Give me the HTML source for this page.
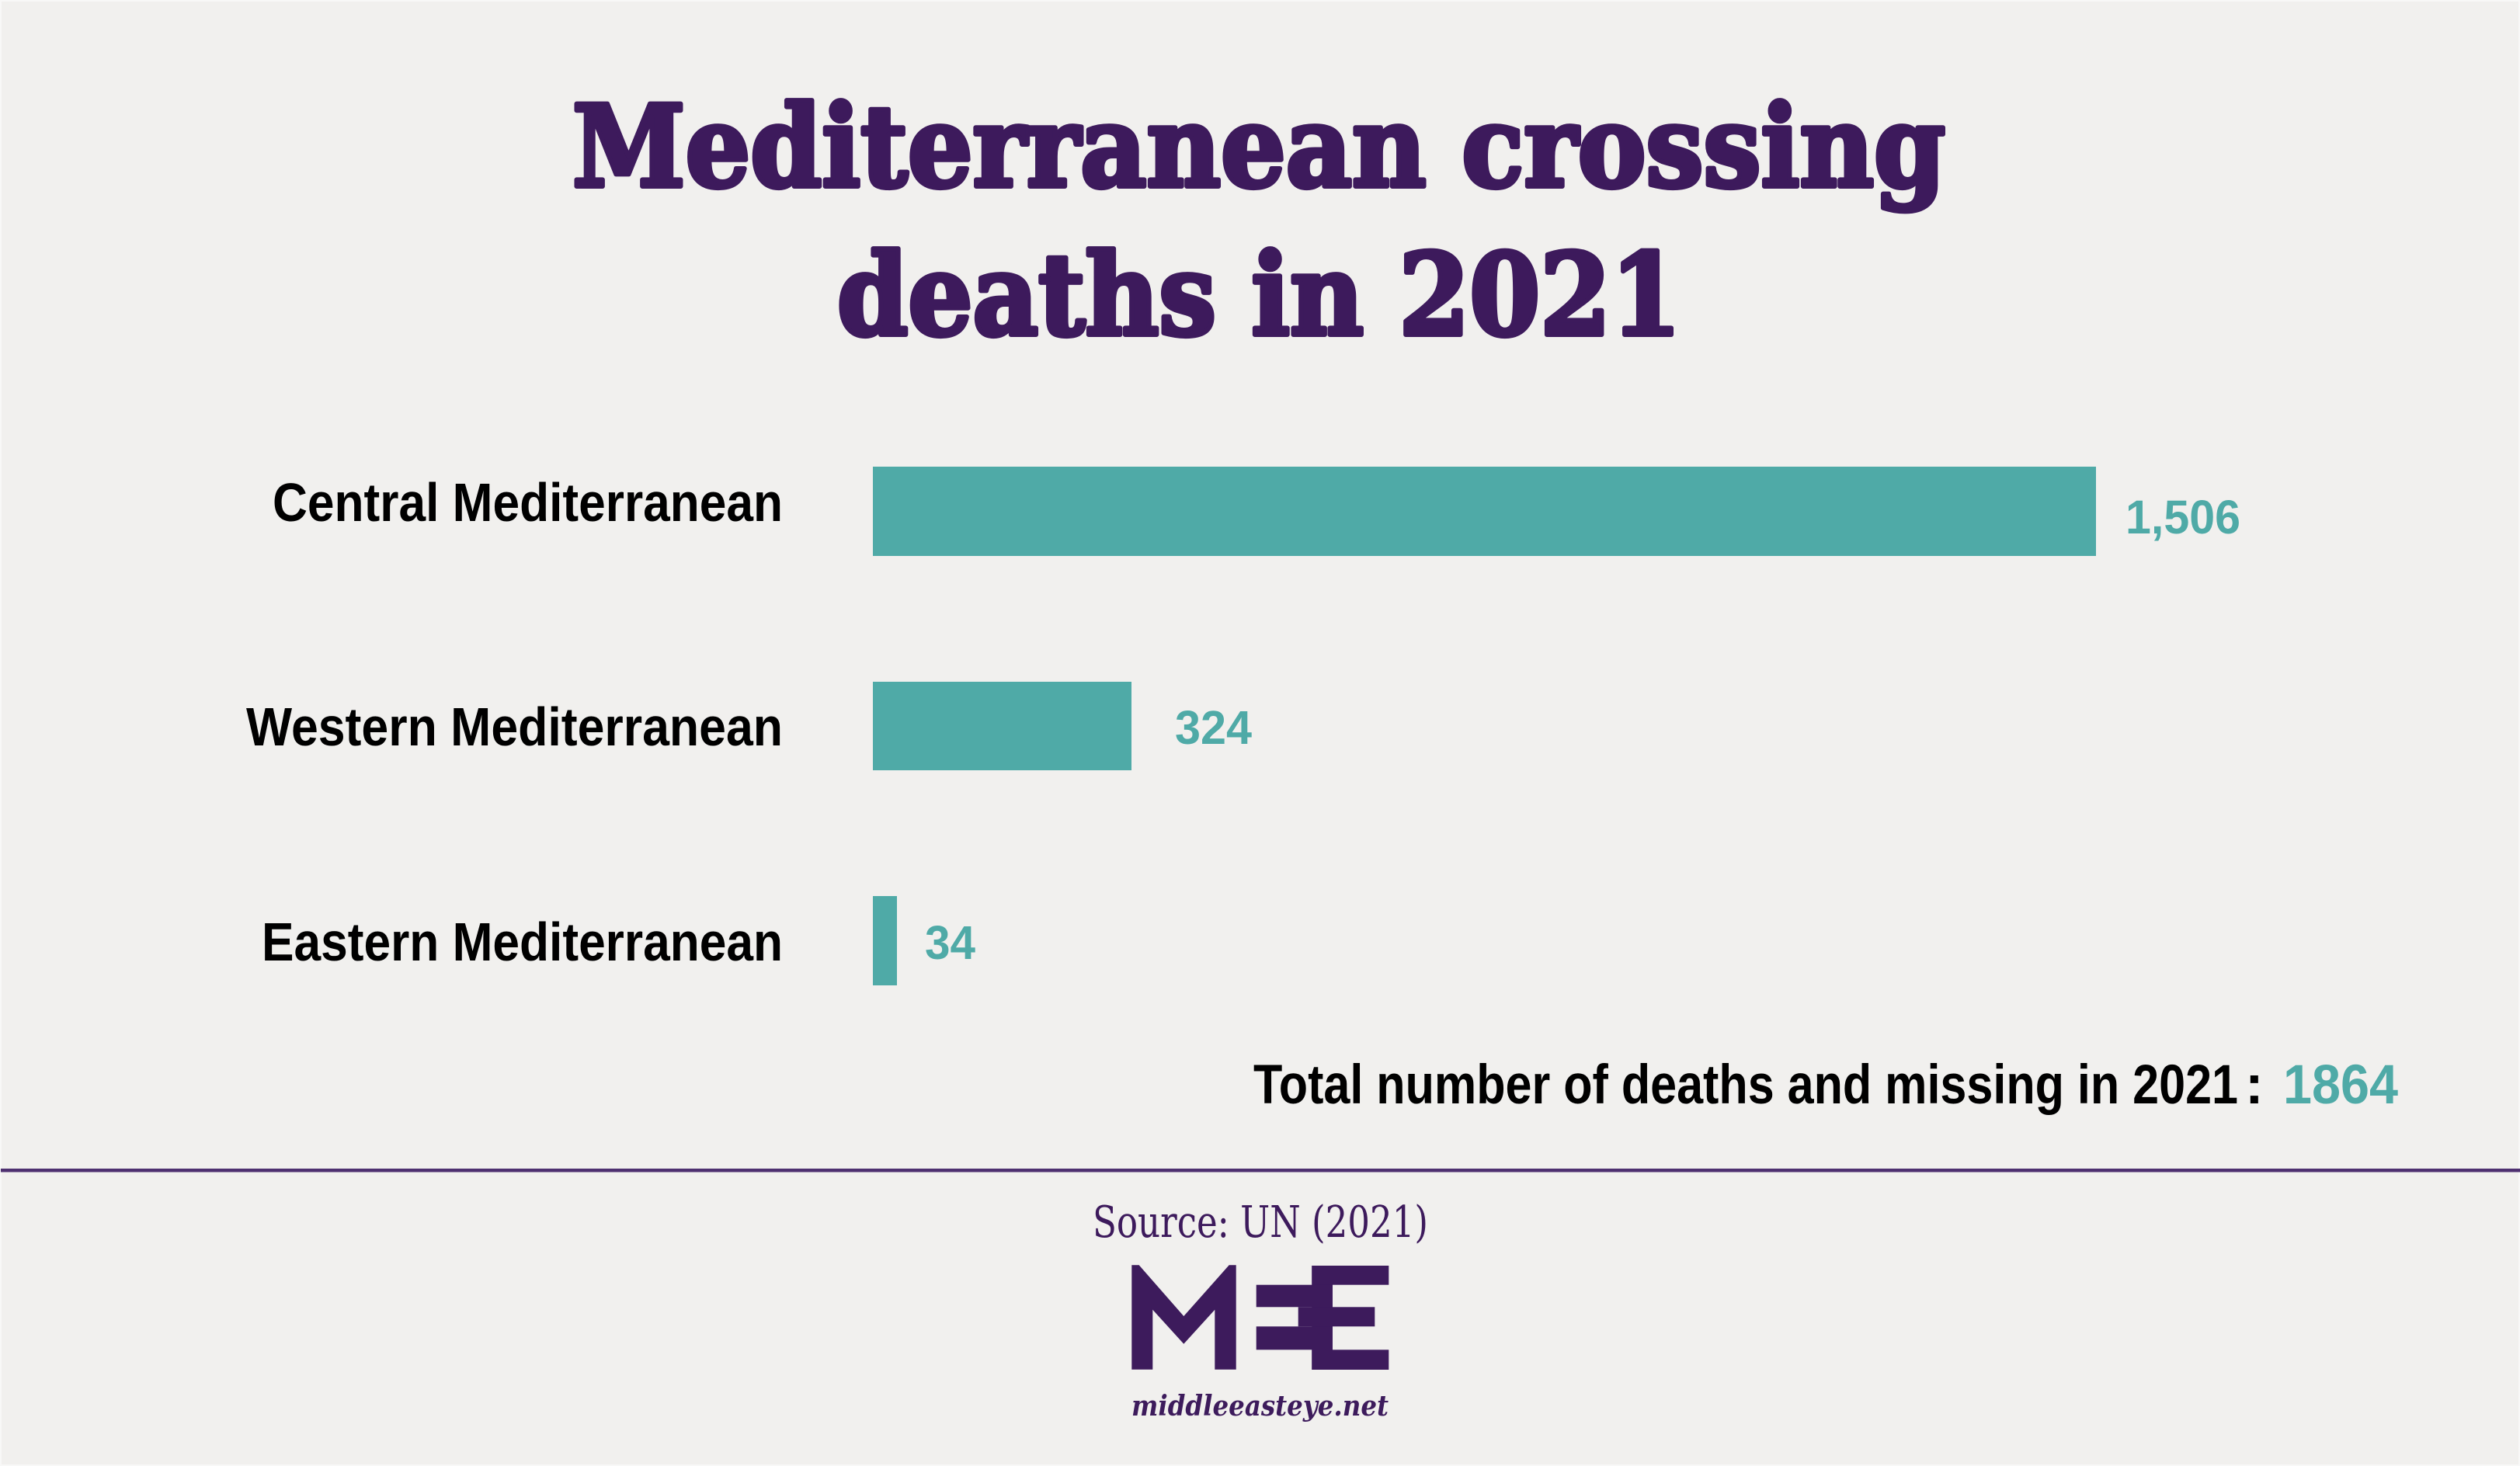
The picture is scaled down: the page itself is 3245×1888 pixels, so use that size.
<!DOCTYPE html>
<html>
<head>
<meta charset="utf-8">
<style>
  html,body{margin:0;padding:0;background:#f1f0ee;}
  svg{display:block;}
</style>
</head>
<body>
<svg width="3245" height="1888" viewBox="0 0 3245 1888" xmlns="http://www.w3.org/2000/svg">
  <rect x="0" y="0" width="3245" height="1888" fill="#f8f8f7"/>
  <rect x="2" y="2" width="3241" height="1884" fill="#f1f0ee"/>

  <!-- Title -->
  <g fill="#3d1a5c" stroke="#3d1a5c" stroke-width="6" stroke-linejoin="round" font-family="'DejaVu Serif Condensed','DejaVu Serif','Liberation Serif',serif" font-weight="bold" font-size="146">
    <text x="737" y="240" textLength="1768" lengthAdjust="spacingAndGlyphs">Mediterranean crossing</text>
    <text x="1078" y="431" textLength="1087" lengthAdjust="spacingAndGlyphs">deaths in 2021</text>
  </g>

  <!-- Category labels -->
  <g fill="#000" font-family="'Liberation Sans Narrow','Liberation Sans',sans-serif" font-weight="bold" font-size="70" text-anchor="start">
    <text x="351" y="671" textLength="657" lengthAdjust="spacingAndGlyphs">Central Mediterranean</text>
    <text x="317" y="960" textLength="691" lengthAdjust="spacingAndGlyphs">Western Mediterranean</text>
    <text x="337" y="1237" textLength="671" lengthAdjust="spacingAndGlyphs">Eastern Mediterranean</text>
  </g>

  <!-- Bars -->
  <g fill="#4faaa7">
    <rect x="1124" y="601" width="1575" height="115"/>
    <rect x="1124" y="878" width="333" height="114"/>
    <rect x="1124" y="1154" width="31" height="115"/>
  </g>

  <!-- Value labels -->
  <g fill="#4faaa7" font-family="'Liberation Sans',sans-serif" font-weight="bold" font-size="61">
    <text x="2737" y="687" textLength="148" lengthAdjust="spacingAndGlyphs">1,506</text>
    <text x="1513" y="958" textLength="99" lengthAdjust="spacingAndGlyphs">324</text>
    <text x="1191" y="1235" textLength="65" lengthAdjust="spacingAndGlyphs">34</text>
  </g>

  <!-- Total -->
  <g font-family="'Liberation Sans Narrow','Liberation Sans',sans-serif" font-size="71" font-weight="bold">
    <text x="1614" y="1421" fill="#000" textLength="1268" lengthAdjust="spacingAndGlyphs">Total number of deaths and missing in 2021</text>
    <text x="2891" y="1421" fill="#000">:</text>
    <text x="2940" y="1421" fill="#4faaa7" textLength="148" lengthAdjust="spacingAndGlyphs">1864</text>
  </g>

  <!-- Divider -->
  <rect x="1" y="1505" width="3244" height="4.5" fill="#4e3070"/>

  <!-- Source -->
  <text x="1407" y="1593" fill="#3d1a5c" font-family="'DejaVu Serif Condensed','DejaVu Serif','Liberation Serif',serif" font-size="56" textLength="432" lengthAdjust="spacingAndGlyphs">Source: UN (2021)</text>

  <!-- MEE logo -->
  <g fill="#3d1b5c">
    <polygon points="1457.3,1629.3 1466.7,1629.3 1524.3,1695 1582.7,1629.3 1591.7,1629.3 1591.7,1763.7 1564.3,1763.7 1564.3,1686.7 1524.3,1730.7 1484.3,1686.7 1484.3,1763.7 1457.3,1763.7"/>
    <rect x="1689.3" y="1630" width="99" height="24.7"/>
    <rect x="1689.3" y="1630" width="26.7" height="134"/>
    <rect x="1716" y="1683.3" width="54.3" height="25"/>
    <rect x="1689.3" y="1738.3" width="99" height="25.7"/>
    <rect x="1617.7" y="1654.7" width="98.3" height="28.6"/>
    <rect x="1671.7" y="1683.3" width="44.3" height="25"/>
    <rect x="1617.7" y="1708.3" width="98.3" height="30"/>
  </g>
  <text x="1457" y="1823" fill="#3d1b5c" font-family="'DejaVu Serif','Liberation Serif',serif" font-weight="bold" font-style="italic" font-size="36" textLength="331" lengthAdjust="spacingAndGlyphs">middleeasteye.net</text>
</svg>
</body>
</html>
